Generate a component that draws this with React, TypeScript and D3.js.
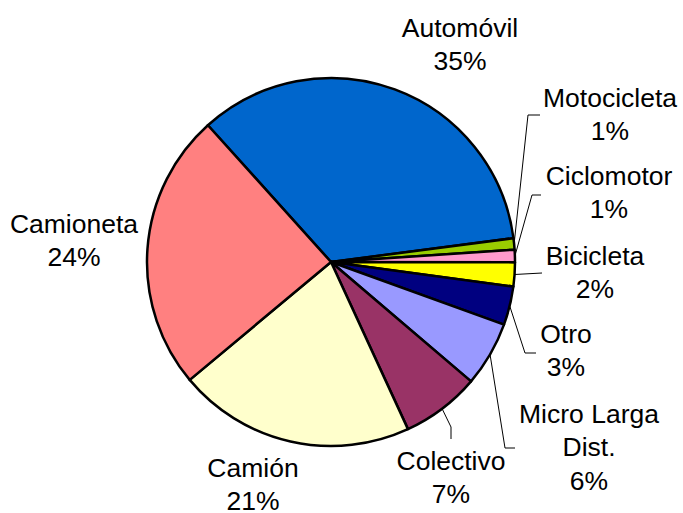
import React, { useEffect, useRef } from 'react';
import * as d3 from 'd3';

const categories = ['Automóvil', 'Motocicleta', 'Ciclomotor', 'Bicicleta', 'Otro', 'Micro Larga Dist.', 'Colectivo', 'Camión', 'Camioneta'];
const shares = [34.6, 1.0, 1.1, 2.1, 3.4, 5.7, 6.9, 20.8, 24.4];
const colors = ['#0066CC', '#99CC00', '#FF99CC', '#FFFF00', '#000080', '#9999FF', '#993366', '#FFFFCC', '#FF8080'];
// label text lines (name may be split)
const labelLines = [['Automóvil'], ['Motocicleta'], ['Ciclomotor'], ['Bicicleta'], ['Otro'], ['Micro Larga', 'Dist.'], ['Colectivo'], ['Camión'], ['Camioneta']];

// label anchor (centre x, first baseline y) and optional leader elbows
const labelPos: [number, number][] = [
  [460, 37], [610, 107], [609, 185], [595, 265], [566, 343], [589, 423], [451, 470], [253, 477], [74, 233],
];
const leaders: ([number, number][] | null)[] = [
  null,
  [[528, 115], [540, 115]],
  [[532, 195], [541, 195]],
  [[542, 273]],
  [[525, 353], [536, 353]],
  [[505, 448], [515, 448]],
  [[451, 427], [451, 439]],
  null,
  null,
];

const W = 683, H = 513;
const cx = 331, cy = 262, R = 184;

const App = () => {
  const ref = useRef<SVGSVGElement>(null);

  useEffect(() => {
    const svg = d3.select(ref.current);
    svg.selectAll('*').remove();

    const startDeg = -42;
    const pie = d3.pie<number>()
      .sort(null)
      .value((d) => d)
      .startAngle((startDeg * Math.PI) / 180)
      .endAngle(((startDeg + 360) * Math.PI) / 180);
    const arcs = pie(shares);
    const arc = d3.arc<d3.PieArcDatum<number>>().innerRadius(0).outerRadius(R);

    const g = svg.append('g').attr('transform', `translate(${cx},${cy})`);
    g.selectAll('path')
      .data(arcs)
      .join('path')
      .attr('d', arc)
      .attr('fill', (d, i) => colors[i])
      .attr('stroke', '#000')
      .attr('stroke-width', 2.5)
      .attr('stroke-linejoin', 'round');

    // leader lines
    arcs.forEach((a, i) => {
      const pts = leaders[i];
      if (!pts) return;
      const mid = (a.startAngle + a.endAngle) / 2;
      const sx = cx + R * Math.sin(mid);
      const sy = cy - R * Math.cos(mid);
      const line = d3.line()([[sx, sy], ...pts]);
      svg.append('path')
        .attr('d', line)
        .attr('fill', 'none')
        .attr('stroke', '#000')
        .attr('stroke-width', 1);
    });

    const total = d3.sum(shares);
    categories.forEach((c, i) => {
      const lines = [...labelLines[i], `${Math.round((shares[i] / total) * 100)}%`];
      const [lx, ly] = labelPos[i];
      const t = svg.append('text')
        .attr('x', lx)
        .attr('y', ly)
        .attr('text-anchor', 'middle')
        .attr('font-family', '"Liberation Sans", Arial, sans-serif')
        .attr('font-size', 26.5)
        .attr('fill', '#000');
      lines.forEach((s, k) => {
        t.append('tspan').attr('x', lx).attr('dy', k === 0 ? 0 : 33.3).text(s);
      });
    });
  }, []);

  return (
    <svg ref={ref} width={W} height={H} style={{ position: 'absolute', left: 0, top: 0, background: '#fff' }}></svg>
  );
};

export default App;
